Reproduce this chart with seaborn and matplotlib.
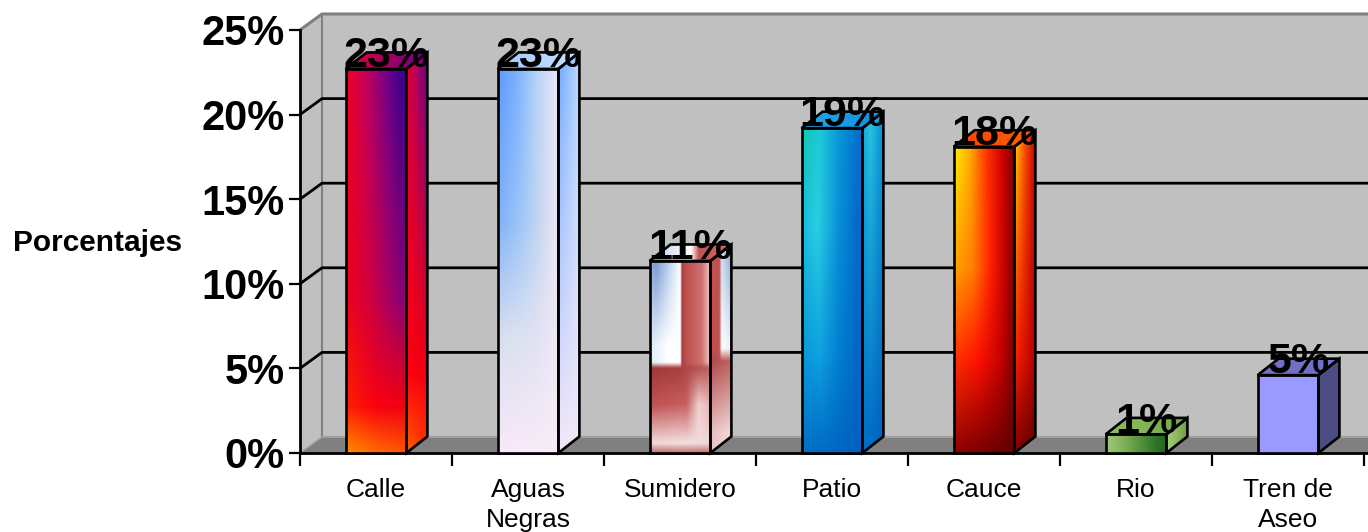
import numpy as np
import pandas as pd
import matplotlib
matplotlib.use("Agg")
import matplotlib.pyplot as plt
from matplotlib.patches import Polygon
from matplotlib.colors import to_rgb
import seaborn as sns

# Data
categories = ["Calle", "Aguas\nNegras", "Sumidero", "Patio", "Cauce", "Rio", "Tren de\nAseo"]
values = [22.7, 22.7, 11.35, 19.2, 18.1, 1.1, 4.6]
yticks = [0, 5, 10, 15, 20, 25]
ylabel = "Porcentajes"

sns.set_style("white")
plt.rcParams["font.family"] = ["Liberation Sans", "DejaVu Sans"]
plt.rcParams["text.color"] = "black"
plt.rcParams["xtick.color"] = "black"
plt.rcParams["ytick.color"] = "black"
plt.rcParams["axes.labelcolor"] = "black"

W, H = 1368, 532
fig = plt.figure(figsize=(W / 100, H / 100), dpi=100)
ax = fig.add_axes([300 / W, 79 / H, 1064 / W, 423 / H])

df = pd.DataFrame({"cat": categories, "val": values})
sns.barplot(data=df, x="cat", y="val", width=0.4, color="white", ax=ax, zorder=5)

XMIN, XMAX, YMAX = -0.5, 6.5, 25
px_x = 1064 / 7.0           # pixels per category unit
px_y = 423 / 25.0           # pixels per percent
DX, DY = 22 / px_x, 16 / px_y      # wall depth
BDX, BDY = 21 / px_x, 16.5 / px_y  # bar depth


def stops_row(stops, u):
    pos = [s[0] for s in stops]
    cols = np.array([to_rgb(s[1]) for s in stops])
    return np.stack([np.interp(u, pos, cols[:, k]) for k in range(3)], axis=-1)


def grad2d(rows, nx=160, ny=300):
    u = np.linspace(0, 1, nx)
    vs = [r[0] for r in rows]
    rr = np.array([stops_row(r[1], u) for r in rows])  # (nrows, nx, 3)
    v = np.linspace(0, 1, ny)
    img = np.empty((ny, nx, 3))
    for k in range(3):
        for i in range(nx):
            img[:, i, k] = np.interp(v, vs, rr[:, i, k])
    return img


def flat(stops):
    return [(0, stops), (1, stops)]


styles = {
    "Calle": dict(
        front=[(0, [(0, "#FF8C00"), (0.5, "#FF6A00"), (1, "#FF5000")]),
               (0.12, [(0, "#FF2000"), (0.5, "#F80010"), (1, "#F00010")]),
               (0.4, [(0, "#F00018"), (0.4, "#D0003F"), (0.75, "#A00068"), (1, "#80007A")]),
               (1, [(0, "#F00020"), (0.35, "#C00060"), (0.75, "#600090"), (0.9, "#3A0088"), (1, "#4A0090")])],
        side=[(0, [(0, "#FF6000"), (1, "#FF3000")]),
              (0.2, [(0, "#FF0010"), (1, "#F00010")]),
              (1, [(0, "#E00030"), (0.5, "#B00060"), (1, "#600090")])],
        top=flat([(0, "#E00030"), (1, "#6A0090")])),
    "Aguas\nNegras": dict(
        front=[(0, [(0, "#F8E8F8"), (1, "#F8ECF8")]),
               (0.3, [(0, "#D8E0F0"), (0.6, "#E0E2F2"), (1, "#F0E8F6")]),
               (0.6, [(0, "#80B0F8"), (0.4, "#A0C8F8"), (0.7, "#C8D8F0"), (1, "#F0E8F8")]),
               (1, [(0, "#5E9AFF"), (0.3, "#78B0FF"), (0.6, "#B0D0F8"), (1, "#F0E8F8")])],
        side=[(0, [(0, "#F4E8F8"), (1, "#F4E8F8")]),
              (1, [(0, "#6EA8FF"), (0.5, "#90C0FF"), (1, "#B8D8FF")])],
        top=flat([(0, "#A0C8FF"), (1, "#C8E0FF")])),
    "Sumidero": dict(
        front=[(0, [(0, "#C07070"), (1, "#C07070")]),
               (0.05, [(0, "#F0D8D8"), (0.5, "#F4E0E0"), (1, "#F0D8D8")]),
               (0.25, [(0, "#C05050"), (0.6, "#C86060"), (0.8, "#F0D0D0"), (1, "#E8B0B0")]),
               (0.44, [(0, "#A03838"), (0.5, "#A84040"), (1, "#C06060")]),
               (0.47, [(0, "#E0ECF8"), (0.3, "#FFFFFF"), (0.5, "#FFFFFF"), (0.52, "#A84040"), (0.6, "#C05050"), (0.85, "#D07070"), (1, "#F0D0D0")]),
               (0.55, [(0, "#E0ECF8"), (0.3, "#FFFFFF"), (0.5, "#FFFFFF"), (0.52, "#A84040"), (0.6, "#C05050"), (0.85, "#D07070"), (1, "#F0D0D0")]),
               (1, [(0, "#88A8D8"), (0.1, "#7898D0"), (0.35, "#C8DCF0"), (0.5, "#FFFFFF"), (0.52, "#A84040"), (0.6, "#C05050"), (0.85, "#D07070"), (1, "#F0C8C8")])],
        side=[(0, [(0, "#E8C0C0"), (1, "#F0D8D8")]),
              (0.1, [(0, "#E8C0C0"), (1, "#F0D8D8")]),
              (0.44, [(0, "#B04848"), (1, "#C06060")]),
              (0.5, [(0, "#C05050"), (0.45, "#C05050"), (0.55, "#FFFFFF"), (1, "#F0F0F8")]),
              (1, [(0, "#C05050"), (0.45, "#C05050"), (0.55, "#C8DCF0"), (1, "#88A8D0")])],
        top=flat([(0, "#C0D0E8"), (0.5, "#FFFFFF"), (0.6, "#C05050"), (1, "#D07070")])),
    "Patio": dict(
        front=[(0, [(0, "#0070C8"), (1, "#0060C0")]),
               (0.3, [(0, "#0898D8"), (0.3, "#10A0E0"), (0.6, "#0080D0"), (1, "#0060C0")]),
               (0.7, [(0, "#18B8E0"), (0.25, "#28D0E0"), (0.6, "#0890D8"), (1, "#0060C8")]),
               (1, [(0, "#10C8B0"), (0.3, "#20C8D8"), (0.6, "#0898D8"), (1, "#0068C8")])],
        side=[(0, [(0, "#0070C8"), (1, "#0060C0")]),
              (1, [(0, "#10A8E0"), (0.4, "#28C8E0"), (1, "#0890D8")])],
        top=flat([(0, "#20A8E8"), (1, "#1090E0")])),
    "Cauce": dict(
        front=[(0, [(0, "#900000"), (1, "#600000")]),
               (0.3, [(0, "#FF3000"), (0.4, "#FF1000"), (0.8, "#C00000"), (1, "#700000")]),
               (0.6, [(0, "#FFA000"), (0.3, "#FF8000"), (0.6, "#FF2000"), (0.85, "#C00000"), (1, "#700000")]),
               (1, [(0, "#FFF000"), (0.25, "#FFB000"), (0.55, "#FF3000"), (0.8, "#D00000"), (1, "#700000")])],
        side=[(0, [(0, "#800000"), (1, "#600000")]),
              (0.3, [(0, "#FF2000"), (1, "#B00000")]),
              (1, [(0, "#FFE000"), (0.5, "#FF5000"), (1, "#C00000")])],
        top=flat([(0, "#FF4000"), (1, "#FF6000")])),
    "Rio": dict(
        front=flat([(0, "#A0C878"), (0.3, "#80B058"), (0.8, "#307828"), (1, "#206818")]),
        side=flat([(0, "#A8D080"), (1, "#70A040")]),
        top=flat([(0, "#90C060"), (1, "#70A848")])),
    "Tren de\nAseo": dict(
        front=flat([(0, "#9999FF"), (1, "#9999FF")]),
        side=flat([(0, "#4D4D85"), (1, "#4D4D85")]),
        top=flat([(0, "#7070C8"), (1, "#7070C8")])),
}

# Walls and floor
wall_c, edge_c = "#C0C0C0", "#808080"
RIGHT = XMAX + 1.0
ax.add_patch(Polygon([(XMIN + DX, DY), (RIGHT, DY), (RIGHT, YMAX + DY), (XMIN + DX, YMAX + DY)],
                     closed=True, facecolor=wall_c, edgecolor="none", zorder=0.5, clip_on=False))
ax.add_patch(Polygon([(XMIN, 0), (XMIN + DX, DY), (XMIN + DX, YMAX + DY), (XMIN, YMAX)],
                     closed=True, facecolor=wall_c, edgecolor="none", zorder=0.5, clip_on=False))
ax.plot([XMIN, XMIN + DX, RIGHT], [YMAX, YMAX + DY, YMAX + DY], color=edge_c, lw=2.2,
        zorder=0.8, clip_on=False, solid_capstyle="butt")
ax.plot([XMIN + DX, XMIN + DX], [DY, YMAX + DY], color=edge_c, lw=1.5, zorder=0.8, clip_on=False)
for t in yticks[1:-1]:
    ax.plot([XMIN, XMIN + DX, RIGHT], [t, t + DY, t + DY], color="black", lw=2,
            zorder=0.9, clip_on=False)
ax.add_patch(Polygon([(XMIN, 0), (XMIN + DX, DY), (RIGHT, DY), (RIGHT, 0)],
                     closed=True, facecolor="#808080", edgecolor="none", zorder=1, clip_on=False))
ax.plot([XMIN + DX, RIGHT], [DY, DY], color="#A0A0A0", lw=1.5, zorder=1.1, clip_on=False)
ax.plot([XMIN, XMIN + DX], [0, DY], color="#A0A0A0", lw=1.0, zorder=1.1, clip_on=False)


def fill_poly(pts, rows, z):
    poly = Polygon(pts, closed=True, facecolor="none", edgecolor="black", lw=1.9,
                   zorder=z + 0.1, joinstyle="miter", clip_on=False)
    ax.add_patch(poly)
    xs = [p[0] for p in pts]
    ys = [p[1] for p in pts]
    im = ax.imshow(grad2d(rows), extent=[min(xs), max(xs), min(ys), max(ys)],
                   origin="lower", aspect="auto", interpolation="bilinear", zorder=z)
    im.set_clip_path(poly)
    im.set_clip_on(True)


for i, (bar, cat, v) in enumerate(zip(ax.patches, categories, values)):
    x0, w, h = bar.get_x(), bar.get_width(), bar.get_height()
    x1 = x0 + w
    st = styles[cat]
    z = 5 + i * 0.01
    bar.set_facecolor("none")
    bar.set_edgecolor("none")
    fill_poly([(x0, 0), (x1, 0), (x1, h), (x0, h)], st["front"], z)
    fill_poly([(x1, 0), (x1 + BDX, BDY), (x1 + BDX, h + BDY), (x1, h)], st["side"], z)
    fill_poly([(x0, h), (x1, h), (x1 + BDX, h + BDY), (x0 + BDX, h + BDY)], st["top"], z)
    ax.text(x0 + w / 2 + BDX / 2, h + 0.1, f"{v:.0f}%", ha="center", va="baseline",
            fontsize=31, fontweight="bold", color="black", zorder=20)

# Axes
ax.set_xlim(XMIN, XMAX)
ax.set_ylim(0, YMAX)
for s in ["top", "right", "bottom"]:
    ax.spines[s].set_visible(False)
ax.spines["left"].set_color("black")
ax.spines["left"].set_linewidth(2)
ax.spines["left"].set_zorder(3)
ax.plot([XMIN, RIGHT], [0, 0], color="black", lw=2, zorder=3, clip_on=False)

ax.set_yticks(yticks)
ax.set_yticklabels([f"{t}%" for t in yticks], fontsize=30, fontweight="bold", color="black")
ax.tick_params(axis="y", direction="out", length=8, width=1.6, color="black", pad=3, left=True)

bounds = np.arange(XMIN, XMAX + 1, 1.0)
ax.set_xticks(bounds)
ax.set_xticklabels([""] * len(bounds))
ax.set_xticks(range(len(categories)), minor=True)
ax.set_xticklabels(categories, minor=True, fontsize=19, linespacing=1.3, color="black")
ax.tick_params(axis="x", which="major", direction="out", length=9, width=1.6, color="black", bottom=True)
ax.tick_params(axis="x", which="minor", length=0, pad=18)
ax.set_xlabel("")
ax.set_ylabel("")
fig.text(13 / W, 1 - 243 / H, ylabel, ha="left", va="center", fontsize=21.5,
         fontweight="bold", color="black")
ax.grid(False)
ax.set_facecolor("none")

fig.savefig("out.png", dpi=100, facecolor="white")
